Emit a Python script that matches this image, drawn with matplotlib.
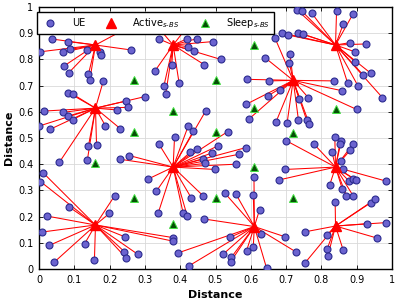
import matplotlib
matplotlib.use("Agg")
import matplotlib.pyplot as plt

# active small-cell base stations
act_x = [0.16, 0.38, 0.84, 0.72, 0.16, 0.38, 0.84, 0.16, 0.61, 0.84]
act_y = [0.855, 0.855, 0.855, 0.72, 0.614, 0.389, 0.389, 0.168, 0.162, 0.164]

# sleeping small-cell base stations
sleep_x = [0.61, 0.27, 0.50, 0.38, 0.61, 0.84, 0.27, 0.50, 0.72, 0.16, 0.61, 0.27, 0.50, 0.72, 0.38]
sleep_y = [0.855, 0.722, 0.722, 0.605, 0.615, 0.612, 0.522, 0.522, 0.52, 0.403, 0.388, 0.272, 0.272, 0.272, 0.172]

# UEs grouped by the active BS that serves them (same order as act_x)
ue_groups = [
    [(0.036, 0.878), (0.083, 0.868), (0.003, 0.829), (0.069, 0.827), (0.088, 0.838), (0.137, 0.836),
     (0.173, 0.829), (0.176, 0.815), (0.261, 0.836), (0.071, 0.775), (0.085, 0.75), (0.14, 0.743),
     (0.144, 0.722), (0.25, 0.92)],
    [(0.34, 0.878), (0.418, 0.878), (0.447, 0.879), (0.492, 0.868), (0.423, 0.849), (0.44, 0.831),
     (0.468, 0.78), (0.376, 0.777), (0.328, 0.755), (0.397, 0.709), (0.354, 0.70), (0.359, 0.668),
     (0.515, 0.80), (0.32, 0.95), (0.44, 0.96)],
    [(0.73, 0.99), (0.744, 0.985), (0.772, 0.978), (0.843, 0.986), (0.889, 0.972), (0.862, 0.935),
     (0.687, 0.902), (0.706, 0.893), (0.734, 0.902), (0.749, 0.896), (0.881, 0.864), (0.926, 0.859),
     (0.895, 0.829), (0.895, 0.792), (0.919, 0.74), (0.94, 0.747), (0.973, 0.654), (0.874, 0.711),
     (0.904, 0.698)],
    [(0.669, 0.88), (0.64, 0.807), (0.711, 0.82), (0.709, 0.788), (0.588, 0.724), (0.652, 0.718),
     (0.837, 0.718), (0.857, 0.681), (0.683, 0.683), (0.65, 0.662), (0.737, 0.648), (0.763, 0.654),
     (0.586, 0.628), (0.596, 0.574), (0.671, 0.56), (0.703, 0.559), (0.735, 0.569), (0.758, 0.569),
     (0.766, 0.553), (0.90, 0.609)],
    [(0.015, 0.603), (0.069, 0.598), (0.083, 0.584), (0.095, 0.57), (0.001, 0.546), (0.031, 0.533),
     (0.083, 0.673), (0.095, 0.668), (0.182, 0.717), (0.14, 0.469), (0.163, 0.473), (0.137, 0.416),
     (0.058, 0.408), (0.188, 0.547), (0.23, 0.536), (0.222, 0.607), (0.246, 0.641), (0.253, 0.617),
     (0.30, 0.658)],
    [(0.34, 0.476), (0.384, 0.505), (0.229, 0.419), (0.256, 0.433), (0.428, 0.445), (0.447, 0.457),
     (0.465, 0.421), (0.47, 0.403), (0.49, 0.443), (0.507, 0.47), (0.498, 0.38), (0.423, 0.547),
     (0.437, 0.526), (0.473, 0.605), (0.534, 0.524), (0.567, 0.438), (0.558, 0.40), (0.585, 0.463),
     (0.31, 0.344), (0.332, 0.296), (0.338, 0.215), (0.408, 0.215), (0.42, 0.202), (0.432, 0.27),
     (0.466, 0.278)],
    [(0.778, 0.478), (0.838, 0.503), (0.856, 0.488), (0.852, 0.476), (0.89, 0.478), (0.83, 0.447),
     (0.882, 0.454), (0.856, 0.412), (0.861, 0.38), (0.823, 0.319), (0.859, 0.306), (0.878, 0.336),
     (0.89, 0.345), (0.897, 0.341), (0.871, 0.279), (0.89, 0.279), (0.982, 0.336), (0.70, 0.49),
     (0.68, 0.34), (0.697, 0.38)],
    [(0.012, 0.367), (0.004, 0.334), (0.084, 0.238), (0.023, 0.202), (0.008, 0.141), (0.029, 0.09),
     (0.043, 0.026), (0.129, 0.096), (0.157, 0.033), (0.214, 0.279), (0.199, 0.212), (0.243, 0.123),
     (0.242, 0.066), (0.247, 0.042), (0.28, 0.056), (0.379, 0.12), (0.381, 0.106)],
    [(0.541, 0.121), (0.588, 0.07), (0.607, 0.084), (0.522, 0.057), (0.545, 0.045), (0.543, 0.028),
     (0.645, 0.002), (0.628, 0.132), (0.697, 0.123), (0.727, 0.066), (0.395, 0.062), (0.426, 0.013),
     (0.467, 0.191), (0.527, 0.289), (0.557, 0.288), (0.609, 0.352), (0.607, 0.281), (0.625, 0.227)],
    [(0.839, 0.254), (0.93, 0.173), (0.982, 0.177), (0.958, 0.118), (0.94, 0.253), (0.952, 0.266),
     (0.754, 0.142), (0.754, 0.024), (0.816, 0.131), (0.816, 0.075), (0.818, 0.048), (0.862, 0.071)],
]

ticks = [0, 0.1, 0.2, 0.3, 0.4, 0.5, 0.6, 0.7, 0.8, 0.9, 1]
tick_labels = ["0", "0.1", "0.2", "0.3", "0.4", "0.5", "0.6", "0.7", "0.8", "0.9", "1"]

ue_face = "#6b63cf"
ue_edge = "#2b2b8f"
sleep_face = "#064f06"
sleep_edge = "#40e040"

fig = plt.figure(figsize=(4, 3.05), dpi=100)
ax = fig.add_axes([0.0975, 0.118, 0.8825, 0.859])

# links from each active BS to its UEs
for i, grp in enumerate(ue_groups):
    for ux, uy in grp:
        ax.plot([act_x[i], ux], [act_y[i], uy], color="red", lw=0.75, zorder=2)

# UEs
for grp in ue_groups:
    xs = [p[0] for p in grp]
    ys = [p[1] for p in grp]
    ax.plot(xs, ys, "o", ms=5.0, mfc=ue_face, mec=ue_edge, mew=0.8, zorder=3)

ax.plot(act_x, act_y, "^", ms=7, color="red", mec="red", zorder=4)
ax.plot(sleep_x, sleep_y, "^", ms=6, mfc=sleep_face, mec=sleep_edge, mew=0.7, zorder=4)

ax.set_xlim(0, 1)
ax.set_ylim(0, 1)
ax.set_xticks(ticks)
ax.set_xticklabels(tick_labels)
ax.set_yticks(ticks)
ax.set_yticklabels(tick_labels)
ax.tick_params(direction="in", top=True, right=True, labelsize=7, length=3, width=0.6, pad=4)
ax.grid(True, color="#d9d9d9", lw=0.6)
ax.set_axisbelow(True)
for s in ax.spines.values():
    s.set_linewidth(1.0)

ax.set_xlabel("Distance", fontsize=8, fontweight="bold", labelpad=4)
ax.set_ylabel("Distance", fontsize=8, fontweight="bold", labelpad=3)

h_ue, = ax.plot([], [], "o", ms=5.0, mfc=ue_face, mec=ue_edge, mew=0.8)
h_act, = ax.plot([], [], "^", ms=7, color="red")
h_sleep, = ax.plot([], [], "^", ms=6, mfc=sleep_face, mec=sleep_edge, mew=0.7)
leg = ax.legend([h_ue, h_act, h_sleep], ["UE", "Active$_{s\u2010BS}$", "Sleep$_{s\u2010BS}$"],
                ncol=3, loc="lower left", bbox_to_anchor=(-0.006, 0.897, 0.672, 0.103),
                mode="expand", borderaxespad=0, fontsize=7, fancybox=False, framealpha=1,
                edgecolor="black", handletextpad=1.2, columnspacing=1.0)
leg.get_frame().set_linewidth(1.0)
leg.set_zorder(10)

fig.savefig("out.png", dpi=100)
